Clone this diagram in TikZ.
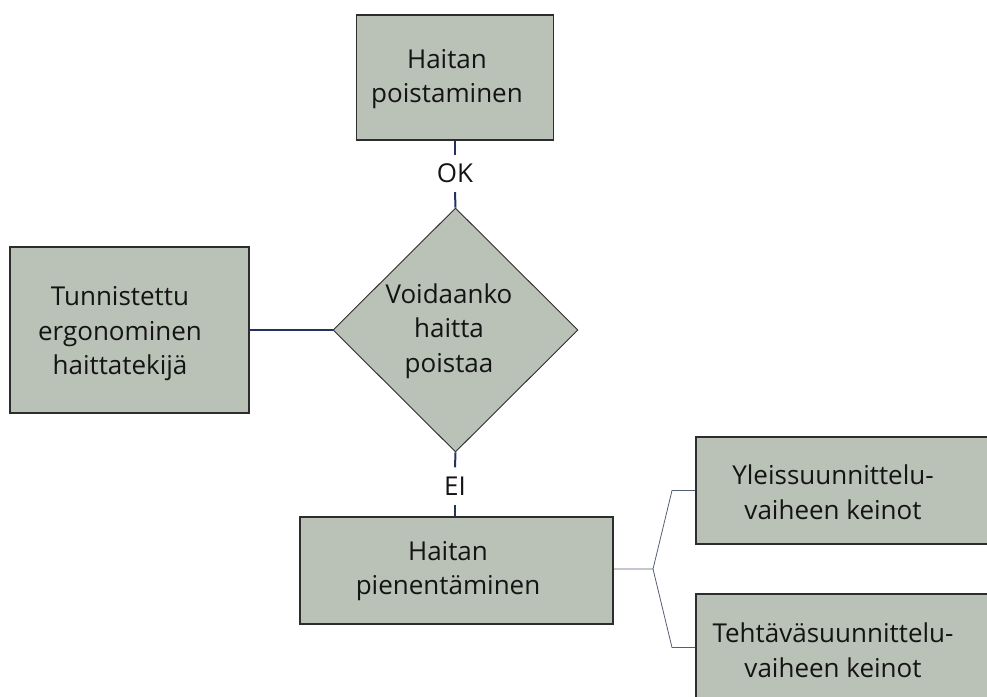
\documentclass[tikz,border=0pt]{standalone}
\usepackage{fontspec}
\setmainfont{Open Sans}
\usetikzlibrary{shapes.geometric}
\definecolor{boxfill}{RGB}{186,193,183}
\definecolor{boxline}{RGB}{45,45,45}
\definecolor{conncol}{RGB}{35,50,95}
\definecolor{forkcol}{RGB}{85,95,115}
\definecolor{txtcol}{RGB}{20,20,20}
\begin{document}
\begin{tikzpicture}[x=1pt,y=-1pt,
  txtfont/.style={font=\fontsize{26}{34.5}\selectfont, text=txtcol},
  box/.style={draw=boxline, line width=1.7pt, fill=boxfill, inner sep=0pt},
  dia/.style={diamond, draw=boxline, line width=0.9pt, fill=boxfill, inner sep=0pt,
              minimum width=245pt, minimum height=244pt},
  lbl/.style={inner sep=0pt, minimum height=37pt, txtfont},
  plain/.style={inner sep=0pt, align=center, txtfont},
  link/.style={draw=conncol, line width=2pt},
  fork/.style={draw=forkcol, line width=0.8pt}]
\useasboundingbox (0,0) rectangle (987,696);
\clip (0,0) rectangle (987,696);

\node[box, minimum width=197pt, minimum height=125pt] (top) at (455,77.5) {};
\node[plain] (topt) at (447,79) {Haitan\\poistaminen};
\node[box, minimum width=239pt, minimum height=166pt] (left) at (129.5,330) {};
\node[plain] (leftt) at (120,334) {Tunnistettu\\ergonominen\\haittatekijä};
\node[dia] (dia) at (455.5,330) {};
\node[plain] (diat) at (449,331) {Voidaanko\\haitta\\poistaa};
\node[box, minimum width=313pt, minimum height=107pt] (bot) at (456.5,570.5) {};
\node[plain] (bott) at (448,571) {Haitan\\pienentäminen};
\node[box, minimum width=304pt, minimum height=107pt] (yb) at (848,490.5) {};
\node[plain] (yt) at (833,492) {Yleissuunnittelu-\\vaiheen keinot};
\node[box, minimum width=304pt, minimum height=107pt] (tb) at (848,647.5) {};
\node[plain] (tt) at (833,650) {Tehtäväsuunnittelu-\\vaiheen keinot};

\node[lbl] (ok) at (455,173.5) {OK};
\node[lbl] (ei) at (455,486) {EI};

\draw[link] (top.south) -- (ok.north);
\draw[link] (ok.south) -- (dia.north);
\draw[link] (dia.south) -- (ei.north);
\draw[link] (ei.south) -- (bot.north -| ei.south);
\draw[link] (left.east) -- (dia.west);

\coordinate (fk) at (653,569);
\coordinate (fu) at (672,490.5);
\coordinate (fd) at (672,647.5);
\draw[fork] (bot.east |- fk) -- (fk) -- (fu) -- (yb.west);
\draw[fork] (fk) -- (fd) -- (tb.west);
\end{tikzpicture}
\end{document}
